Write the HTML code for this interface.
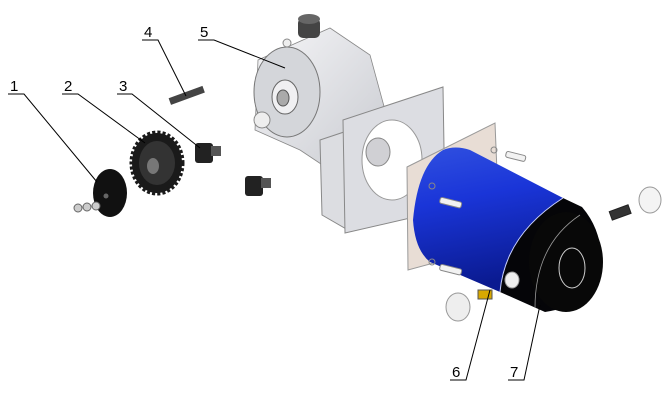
<!DOCTYPE html>
<html><head><meta charset="utf-8"><style>
html,body{margin:0;padding:0;background:#fff;width:670px;height:403px;overflow:hidden}
svg{display:block}
text{font-family:"Liberation Sans",sans-serif;font-size:15px;fill:#000}
</style></head><body>
<svg width="670" height="403" viewBox="0 0 670 403" xmlns="http://www.w3.org/2000/svg">
<defs>
<linearGradient id="blue" x1="0" y1="0" x2="0.2" y2="1">
<stop offset="0" stop-color="#3050e0"/><stop offset="0.4" stop-color="#1a35d8"/><stop offset="1" stop-color="#0a1a90"/>
</linearGradient>
<linearGradient id="grey" x1="0" y1="0" x2="1" y2="1">
<stop offset="0" stop-color="#f6f6f8"/><stop offset="1" stop-color="#c8cad0"/>
</linearGradient>
</defs>
<!-- gearbox body -->
<path d="M258 60 L330 28 L370 55 L385 110 L365 150 L330 170 L300 150 L255 130 Z" fill="url(#grey)" stroke="#888" stroke-width="0.8"/>
<ellipse cx="287" cy="92" rx="33" ry="45" fill="#d4d6da" stroke="#777"/>
<ellipse cx="285" cy="97" rx="13" ry="17" fill="#f0f0f2" stroke="#666"/>
<ellipse cx="283" cy="98" rx="6" ry="8" fill="#aaa" stroke="#555"/>
<rect x="298" y="18" width="22" height="20" rx="5" fill="#444"/>
<ellipse cx="309" cy="19" rx="11" ry="5" fill="#666"/>
<circle cx="262" cy="120" r="8" fill="#eee" stroke="#888"/>
<circle cx="287" cy="43" r="4" fill="#eee" stroke="#888"/>
<!-- bracket -->
<path d="M320 140 L350 130 L348 230 L322 215 Z" fill="#dcdde1" stroke="#888"/>
<path d="M343 120 L443 87 L445 210 L345 233 Z" fill="#dcdde2" stroke="#888"/>
<ellipse cx="392" cy="160" rx="30" ry="40" fill="#fff" stroke="#999"/>
<ellipse cx="378" cy="152" rx="12" ry="14" fill="#d0d0d4" stroke="#888"/>
<!-- pink plate -->
<path d="M407 167 L495 123 L500 245 L408 270 Z" fill="#e8ddd5" stroke="#999"/>
<!-- motor -->
<path d="M563 198 L582 207 Q606 235 600 275 Q590 305 545 312 L500 292 Q505 235 563 198 Z" fill="#050508"/>
<ellipse cx="566" cy="262" rx="37" ry="50" fill="#080808"/>
<path d="M443 150 Q418 165 413 220 Q415 250 430 262 L500 292 Q505 235 563 198 L470 150 Q455 145 443 150 Z" fill="url(#blue)"/>
<path d="M563 198 Q505 235 500 292" fill="none" stroke="#c8d0ff" stroke-width="1"/>
<path d="M580 215 Q535 245 535 308" fill="none" stroke="#999" stroke-width="0.8"/>
<ellipse cx="572" cy="268" rx="13" ry="20" fill="none" stroke="#ccc" stroke-width="1"/>
<!-- bolts -->
<rect x="440" y="197" width="22" height="6" rx="2" fill="#f2f2f2" stroke="#888" transform="rotate(14 440 200)"/>
<rect x="440" y="264" width="22" height="6" rx="2" fill="#f2f2f2" stroke="#888" transform="rotate(14 440 267)"/>
<rect x="506" y="151" width="20" height="6" rx="2" fill="#f2f2f2" stroke="#888" transform="rotate(14 506 154)"/>
<circle cx="432" cy="186" r="3" fill="none" stroke="#888"/>
<circle cx="494" cy="150" r="3" fill="none" stroke="#888"/>
<circle cx="432" cy="262" r="3" fill="none" stroke="#888"/>
<ellipse cx="512" cy="280" rx="7" ry="8" fill="#eee" stroke="#999"/>
<rect x="478" y="290" width="14" height="9" fill="#d8a800" stroke="#555"/>
<ellipse cx="458" cy="307" rx="12" ry="14" fill="#eee" stroke="#999"/>
<ellipse cx="650" cy="200" rx="11" ry="13" fill="#f4f4f4" stroke="#999"/>
<rect x="610" y="208" width="20" height="9" fill="#333" stroke="#222" transform="rotate(-20 620 212)"/>
<!-- left parts -->
<ellipse cx="110" cy="193" rx="17" ry="24" fill="#111"/>
<circle cx="106" cy="196" r="2.5" fill="#666"/>
<ellipse cx="157" cy="163" rx="25" ry="30" fill="#1a1a1a" stroke="#1a1a1a" stroke-width="5" stroke-dasharray="3 2"/>
<ellipse cx="157" cy="163" rx="18" ry="22" fill="#333"/>
<ellipse cx="153" cy="166" rx="6" ry="8" fill="#777"/>
<circle cx="78" cy="208" r="4" fill="#ccc" stroke="#666"/>
<circle cx="87" cy="207" r="4" fill="#ccc" stroke="#666"/>
<circle cx="96" cy="206" r="4" fill="#ccc" stroke="#666"/>
<rect x="195" y="143" width="18" height="20" rx="3" fill="#222"/>
<rect x="211" y="146" width="10" height="10" fill="#555"/>
<rect x="245" y="176" width="18" height="20" rx="3" fill="#222"/>
<rect x="261" y="178" width="10" height="10" fill="#555"/>
<rect x="170" y="98" width="36" height="7" fill="#444" transform="rotate(-20 170 102)"/>
<!-- leaders -->
<g stroke="#000" stroke-width="1" fill="none">
<path d="M8 94 H24 L97 182"/>
<path d="M62 94 H78 L145 143"/>
<path d="M117 94 H132 L200 148"/>
<path d="M142 40 H158 L186 96"/>
<path d="M198 40 H214 L285 68"/>
<path d="M450 380 H466 L490 290"/>
<path d="M508 380 H524 L540 305"/>
</g>
<text x="10" y="91">1</text>
<text x="64" y="91">2</text>
<text x="119" y="91">3</text>
<text x="144" y="37">4</text>
<text x="200" y="37">5</text>
<text x="452" y="377">6</text>
<text x="510" y="377">7</text>
</svg>
</body></html>
